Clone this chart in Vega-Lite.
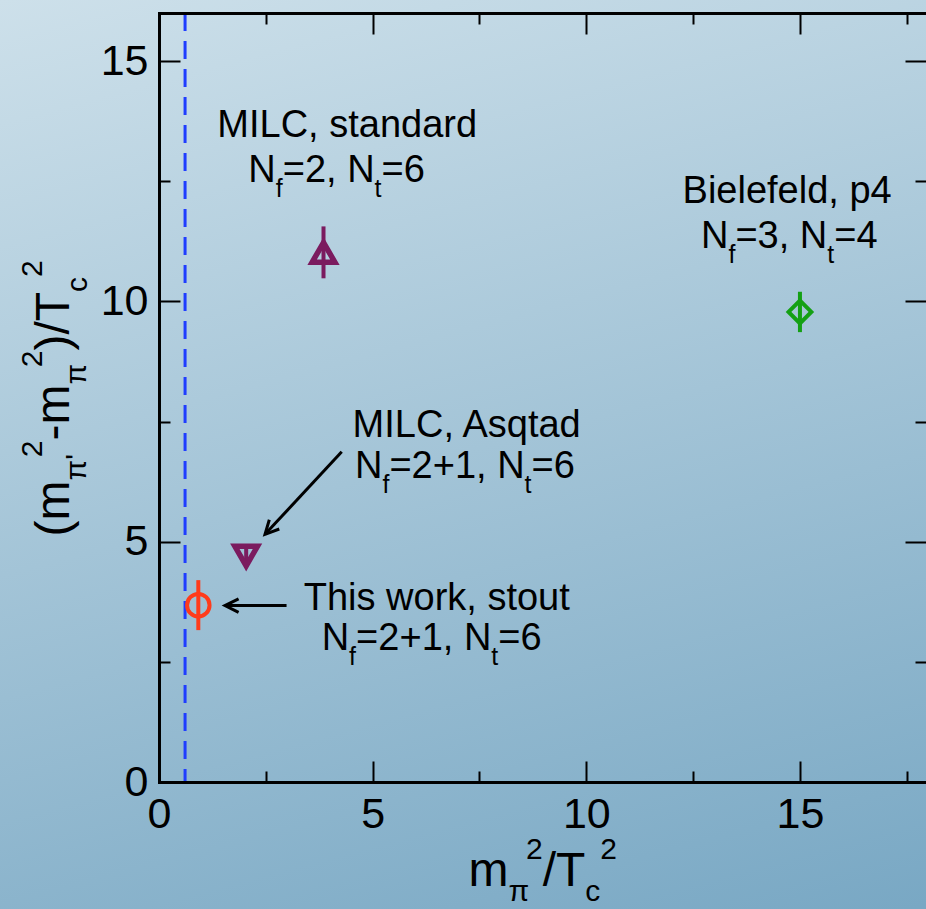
{
  "$schema": "https://vega.github.io/schema/vega-lite/v6.json",
  "width": 767,
  "height": 769,
  "autosize": {"type": "none"},
  "padding": {"left": 159, "top": 13, "right": 0, "bottom": 127},
  "background": "#a9c6d6",
  "config": {
    "view": {"stroke": null},
    "axis": {
      "grid": false,
      "domainColor": "#000000", "domainWidth": 3, "domainCap": "square",
      "tickColor": "#000000", "tickWidth": 2,
      "labelFont": "Liberation Sans", "labelFontSize": 43, "labelColor": "#000000",
      "labelFlush": false, "labelOverlap": false, "labelBound": false
    },
    "text": {"font": "Liberation Sans", "color": "#000000", "baseline": "alphabetic", "align": "left", "fontSize": 38}
  },
  "data": {"values": [{}]},
  "datasets": {
    "points": [
      {"series": "This work, stout", "x": 0.92, "y": 3.68, "err": 0.52},
      {"series": "MILC, Asqtad", "x": 2.04, "y": 4.70, "err": 0.15},
      {"series": "MILC, standard", "x": 3.85, "y": 11.02, "err": 0.54},
      {"series": "Bielefeld, p4", "x": 15.0, "y": 9.78, "err": 0.42}
    ],
    "arrows": [
      {"to": "MILC, Asqtad", "x": 4.276, "y": 6.871, "x2": 2.481, "y2": 5.153},
      {"to": "This work, stout", "x": 2.985, "y": 3.67, "x2": 1.544, "y2": 3.67}
    ],
    "notes": [
      {"text": "MILC, standard", "x": 4.405, "y": 13.41},
      {"text": "Bielefeld, p4", "x": 14.70, "y": 12.045},
      {"text": "MILC, Asqtad", "x": 7.20, "y": 7.18},
      {"text": "This work, stout", "x": 6.50, "y": 3.578}
    ],
    "flavours": [
      {"label": "MILC, standard", "x": 2.090, "y": 12.488, "mid": "=2, N", "tail": "=6"},
      {"label": "Bielefeld, p4", "x": 12.685, "y": 11.12, "mid": "=3, N", "tail": "=4"},
      {"label": "MILC, Asqtad", "x": 4.587, "y": 6.318, "mid": "=2+1, N", "tail": "=6"},
      {"label": "This work, stout", "x": 3.808, "y": 2.746, "mid": "=2+1, N", "tail": "=6"}
    ]
  },
  "resolve": {"axis": {"x": "independent", "y": "independent"}},
  "layer": [
    {
      "mark": {"type": "rect", "fill": {"gradient": "linear", "x1": 0, "y1": 0, "x2": 0.32, "y2": 1.18,
        "stops": [{"offset": 0, "color": "#cde0ea"}, {"offset": 1, "color": "#79a8c4"}]}},
      "encoding": {
        "x": {"datum": -3.721, "type": "quantitative", "scale": {"domain": [0, 17.95], "nice": false, "zero": false}, "axis": null},
        "x2": {"datum": 17.95},
        "y": {"datum": 16.2705, "type": "quantitative", "scale": {"domain": [0, 16], "nice": false, "zero": false}, "axis": null},
        "y2": {"datum": -2.642}
      }
    },
    {
      "data": {"values": [{"mpi2": 0.61}]},
      "mark": {"type": "rule", "color": "#1f3dff", "strokeWidth": 3, "strokeDash": [18, 10]},
      "encoding": {
        "x": {"field": "mpi2", "type": "quantitative", "scale": {"domain": [0, 17.95], "nice": false, "zero": false}, "axis": null}
      }
    },
    {
      "data": {"name": "arrows"},
      "mark": {"type": "rule", "color": "#000000", "strokeWidth": 3},
      "encoding": {
        "x": {"field": "x", "type": "quantitative", "scale": {"domain": [0, 17.95], "nice": false, "zero": false},
          "axis": {"orient": "top", "values": [0, 5, 10, 15], "tickSize": -21, "labels": false, "title": null, "zindex": 1}},
        "y": {"field": "y", "type": "quantitative", "scale": {"domain": [0, 16], "nice": false, "zero": false},
          "axis": {"orient": "right", "values": [0, 5, 10, 15], "tickSize": -21, "labels": false, "domain": false, "title": null, "zindex": 1}},
        "x2": {"field": "x2"},
        "y2": {"field": "y2"}
      }
    },
    {
      "data": {"name": "arrows"},
      "transform": [{"filter": "datum.to === 'MILC, Asqtad'"}],
      "mark": {"type": "point", "shape": "M-1,-0.5L0,0L-1,0.5", "filled": false, "stroke": "#000000", "strokeWidth": 3, "size": 740, "angle": 133, "opacity": 1, "strokeJoin": "miter"},
      "encoding": {
        "x": {"field": "x2", "type": "quantitative", "scale": {"domain": [0, 17.95], "nice": false, "zero": false}, "axis": null},
        "y": {"field": "y2", "type": "quantitative", "scale": {"domain": [0, 16], "nice": false, "zero": false}, "axis": null}
      }
    },
    {
      "data": {"name": "arrows"},
      "transform": [{"filter": "datum.to === 'This work, stout'"}],
      "mark": {"type": "point", "shape": "M-1,-0.5L0,0L-1,0.5", "filled": false, "stroke": "#000000", "strokeWidth": 3, "size": 740, "angle": 180, "opacity": 1, "strokeJoin": "miter"},
      "encoding": {
        "x": {"field": "x2", "type": "quantitative", "scale": {"domain": [0, 17.95], "nice": false, "zero": false}, "axis": null},
        "y": {"field": "y2", "type": "quantitative", "scale": {"domain": [0, 16], "nice": false, "zero": false}, "axis": null}
      }
    },
    {
      "data": {"name": "points"},
      "mark": {"type": "errorbar", "ticks": false, "thickness": 4},
      "encoding": {
        "x": {"field": "x", "type": "quantitative", "scale": {"domain": [0, 17.95], "nice": false, "zero": false},
          "axis": {"orient": "bottom", "values": [0, 5, 10, 15], "tickSize": -21, "labelPadding": 32, "title": null, "zindex": 1}},
        "y": {"field": "y", "type": "quantitative", "scale": {"domain": [0, 16], "nice": false, "zero": false},
          "axis": {"orient": "left", "values": [0, 5, 10, 15], "tickSize": -21, "labelPadding": 32, "title": null, "zindex": 1}},
        "yError": {"field": "err"},
        "color": {"field": "series", "type": "nominal", "legend": null,
          "scale": {"domain": ["This work, stout", "MILC, Asqtad", "MILC, standard", "Bielefeld, p4"],
                    "range": ["#ff3b1b", "#7b1b5f", "#7b1b5f", "#14a014"]}}
      }
    },
    {
      "data": {"name": "points"},
      "mark": {"type": "point", "filled": false, "opacity": 1},
      "encoding": {
        "x": {"field": "x", "type": "quantitative", "scale": {"domain": [0, 17.95], "nice": false, "zero": false},
          "axis": {"orient": "bottom", "values": [2.5, 7.5, 12.5, 17.5], "tickSize": -11, "labels": false, "domain": false, "title": null, "zindex": 1}},
        "y": {"field": "y", "type": "quantitative", "scale": {"domain": [0, 16], "nice": false, "zero": false},
          "axis": {"orient": "left", "values": [2.5, 7.5, 12.5], "tickSize": -11, "labels": false, "domain": false, "title": null, "zindex": 1}},
        "color": {"field": "series", "type": "nominal", "legend": null,
          "scale": {"domain": ["This work, stout", "MILC, Asqtad", "MILC, standard", "Bielefeld, p4"],
                    "range": ["#ff3b1b", "#7b1b5f", "#7b1b5f", "#14a014"]}},
        "shape": {"field": "series", "type": "nominal", "legend": null,
          "scale": {"domain": ["This work, stout", "MILC, Asqtad", "MILC, standard", "Bielefeld, p4"],
                    "range": ["circle", "triangle-down", "triangle-up", "diamond"]}},
        "size": {"field": "series", "type": "nominal", "legend": null,
          "scale": {"domain": ["This work, stout", "MILC, Asqtad", "MILC, standard", "Bielefeld, p4"],
                    "range": [506, 520, 520, 530]}},
        "strokeWidth": {"condition": {"test": "indexof(datum.series, 'MILC') >= 0", "value": 5.5}, "value": 4}
      }
    },
    {
      "data": {"name": "notes"},
      "mark": {"type": "text", "align": "center", "fontSize": 38},
      "encoding": {
        "x": {"field": "x", "type": "quantitative", "scale": {"domain": [0, 17.95], "nice": false, "zero": false},
          "axis": {"orient": "top", "values": [2.5, 7.5, 12.5, 17.5], "tickSize": -11, "labels": false, "domain": false, "title": null, "zindex": 1}},
        "y": {"field": "y", "type": "quantitative", "scale": {"domain": [0, 16], "nice": false, "zero": false},
          "axis": {"orient": "right", "values": [2.5, 7.5, 12.5], "tickSize": -11, "labels": false, "domain": false, "title": null, "zindex": 1}},
        "text": {"field": "text"}
      }
    },
    {
      "data": {"name": "flavours"},
      "mark": {"type": "text", "text": "N", "fontSize": 38},
      "encoding": {
        "x": {"field": "x", "type": "quantitative", "scale": {"domain": [0, 17.95], "nice": false, "zero": false}, "axis": null},
        "y": {"field": "y", "type": "quantitative", "scale": {"domain": [0, 16], "nice": false, "zero": false}, "axis": null}
      }
    },
    {
      "data": {"name": "flavours"},
      "mark": {"type": "text", "text": "f", "fontSize": 25, "dx": 27.4, "dy": 15},
      "encoding": {
        "x": {"field": "x", "type": "quantitative", "scale": {"domain": [0, 17.95], "nice": false, "zero": false}, "axis": null},
        "y": {"field": "y", "type": "quantitative", "scale": {"domain": [0, 16], "nice": false, "zero": false}, "axis": null}
      }
    },
    {
      "data": {"name": "flavours"},
      "mark": {"type": "text", "fontSize": 38, "dx": 34.4},
      "encoding": {
        "x": {"field": "x", "type": "quantitative", "scale": {"domain": [0, 17.95], "nice": false, "zero": false}, "axis": null},
        "y": {"field": "y", "type": "quantitative", "scale": {"domain": [0, 16], "nice": false, "zero": false}, "axis": null},
        "text": {"field": "mid"}
      }
    },
    {
      "data": {"name": "flavours"},
      "transform": [{"filter": "indexof(datum.mid, '+') < 0"}],
      "mark": {"type": "text", "text": "t", "fontSize": 25, "dx": 126.3, "dy": 15},
      "encoding": {
        "x": {"field": "x", "type": "quantitative", "scale": {"domain": [0, 17.95], "nice": false, "zero": false}, "axis": null},
        "y": {"field": "y", "type": "quantitative", "scale": {"domain": [0, 16], "nice": false, "zero": false}, "axis": null}
      }
    },
    {
      "data": {"name": "flavours"},
      "transform": [{"filter": "indexof(datum.mid, '+') < 0"}],
      "mark": {"type": "text", "fontSize": 38, "dx": 133.2},
      "encoding": {
        "x": {"field": "x", "type": "quantitative", "scale": {"domain": [0, 17.95], "nice": false, "zero": false}, "axis": null},
        "y": {"field": "y", "type": "quantitative", "scale": {"domain": [0, 16], "nice": false, "zero": false}, "axis": null},
        "text": {"field": "tail"}
      }
    },
    {
      "data": {"name": "flavours"},
      "transform": [{"filter": "indexof(datum.mid, '+') >= 0"}],
      "mark": {"type": "text", "text": "t", "fontSize": 25, "dx": 169.6, "dy": 15},
      "encoding": {
        "x": {"field": "x", "type": "quantitative", "scale": {"domain": [0, 17.95], "nice": false, "zero": false}, "axis": null},
        "y": {"field": "y", "type": "quantitative", "scale": {"domain": [0, 16], "nice": false, "zero": false}, "axis": null}
      }
    },
    {
      "data": {"name": "flavours"},
      "transform": [{"filter": "indexof(datum.mid, '+') >= 0"}],
      "mark": {"type": "text", "fontSize": 38, "dx": 176.5},
      "encoding": {
        "x": {"field": "x", "type": "quantitative", "scale": {"domain": [0, 17.95], "nice": false, "zero": false}, "axis": null},
        "y": {"field": "y", "type": "quantitative", "scale": {"domain": [0, 16], "nice": false, "zero": false}, "axis": null},
        "text": {"field": "tail"}
      }
    },
    {
      "mark": {"type": "text", "text": "m", "fontSize": 48},
      "encoding": {
        "x": {"datum": 7.245, "type": "quantitative", "scale": {"domain": [0, 17.95], "nice": false, "zero": false}, "axis": null},
        "y": {"datum": -2.16, "type": "quantitative", "scale": {"domain": [0, 16], "nice": false, "zero": false}, "axis": null}
      }
    },
    {
      "mark": {"type": "text", "text": "π", "fontSize": 30, "dx": 40, "dy": 15},
      "encoding": {
        "x": {"datum": 7.245, "type": "quantitative", "scale": {"domain": [0, 17.95], "nice": false, "zero": false}, "axis": null},
        "y": {"datum": -2.16, "type": "quantitative", "scale": {"domain": [0, 16], "nice": false, "zero": false}, "axis": null}
      }
    },
    {
      "mark": {"type": "text", "text": "2", "fontSize": 30, "dx": 57.4, "dy": -27},
      "encoding": {
        "x": {"datum": 7.245, "type": "quantitative", "scale": {"domain": [0, 17.95], "nice": false, "zero": false}, "axis": null},
        "y": {"datum": -2.16, "type": "quantitative", "scale": {"domain": [0, 16], "nice": false, "zero": false}, "axis": null}
      }
    },
    {
      "mark": {"type": "text", "text": "/T", "fontSize": 48, "dx": 74.1},
      "encoding": {
        "x": {"datum": 7.245, "type": "quantitative", "scale": {"domain": [0, 17.95], "nice": false, "zero": false}, "axis": null},
        "y": {"datum": -2.16, "type": "quantitative", "scale": {"domain": [0, 16], "nice": false, "zero": false}, "axis": null}
      }
    },
    {
      "mark": {"type": "text", "text": "c", "fontSize": 30, "dx": 116.7, "dy": 15},
      "encoding": {
        "x": {"datum": 7.245, "type": "quantitative", "scale": {"domain": [0, 17.95], "nice": false, "zero": false}, "axis": null},
        "y": {"datum": -2.16, "type": "quantitative", "scale": {"domain": [0, 16], "nice": false, "zero": false}, "axis": null}
      }
    },
    {
      "mark": {"type": "text", "text": "2", "fontSize": 30, "dx": 131.7, "dy": -27},
      "encoding": {
        "x": {"datum": 7.245, "type": "quantitative", "scale": {"domain": [0, 17.95], "nice": false, "zero": false}, "axis": null},
        "y": {"datum": -2.16, "type": "quantitative", "scale": {"domain": [0, 16], "nice": false, "zero": false}, "axis": null}
      }
    },
    {
      "mark": {"type": "text", "text": "(m", "fontSize": 48, "angle": -90},
      "encoding": {
        "x": {"datum": -2.106, "type": "quantitative", "scale": {"domain": [0, 17.95], "nice": false, "zero": false}, "axis": null},
        "y": {"datum": 5.11, "type": "quantitative", "scale": {"domain": [0, 16], "nice": false, "zero": false}, "axis": null}
      }
    },
    {
      "mark": {"type": "text", "text": "π'", "fontSize": 30, "angle": -90, "dx": 56, "dy": 17},
      "encoding": {
        "x": {"datum": -2.106, "type": "quantitative", "scale": {"domain": [0, 17.95], "nice": false, "zero": false}, "axis": null},
        "y": {"datum": 5.11, "type": "quantitative", "scale": {"domain": [0, 16], "nice": false, "zero": false}, "axis": null}
      }
    },
    {
      "mark": {"type": "text", "text": "2", "fontSize": 30, "angle": -90, "dx": 79.1, "dy": -27},
      "encoding": {
        "x": {"datum": -2.106, "type": "quantitative", "scale": {"domain": [0, 17.95], "nice": false, "zero": false}, "axis": null},
        "y": {"datum": 5.11, "type": "quantitative", "scale": {"domain": [0, 16], "nice": false, "zero": false}, "axis": null}
      }
    },
    {
      "mark": {"type": "text", "text": "-m", "fontSize": 48, "angle": -90, "dx": 95.8},
      "encoding": {
        "x": {"datum": -2.106, "type": "quantitative", "scale": {"domain": [0, 17.95], "nice": false, "zero": false}, "axis": null},
        "y": {"datum": 5.11, "type": "quantitative", "scale": {"domain": [0, 16], "nice": false, "zero": false}, "axis": null}
      }
    },
    {
      "mark": {"type": "text", "text": "π", "fontSize": 30, "angle": -90, "dx": 151.8, "dy": 17},
      "encoding": {
        "x": {"datum": -2.106, "type": "quantitative", "scale": {"domain": [0, 17.95], "nice": false, "zero": false}, "axis": null},
        "y": {"datum": 5.11, "type": "quantitative", "scale": {"domain": [0, 16], "nice": false, "zero": false}, "axis": null}
      }
    },
    {
      "mark": {"type": "text", "text": "2", "fontSize": 30, "angle": -90, "dx": 169.2, "dy": -27},
      "encoding": {
        "x": {"datum": -2.106, "type": "quantitative", "scale": {"domain": [0, 17.95], "nice": false, "zero": false}, "axis": null},
        "y": {"datum": 5.11, "type": "quantitative", "scale": {"domain": [0, 16], "nice": false, "zero": false}, "axis": null}
      }
    },
    {
      "mark": {"type": "text", "text": ")/T", "fontSize": 48, "angle": -90, "dx": 185.9},
      "encoding": {
        "x": {"datum": -2.106, "type": "quantitative", "scale": {"domain": [0, 17.95], "nice": false, "zero": false}, "axis": null},
        "y": {"datum": 5.11, "type": "quantitative", "scale": {"domain": [0, 16], "nice": false, "zero": false}, "axis": null}
      }
    },
    {
      "mark": {"type": "text", "text": "c", "fontSize": 30, "angle": -90, "dx": 244.5, "dy": 18},
      "encoding": {
        "x": {"datum": -2.106, "type": "quantitative", "scale": {"domain": [0, 17.95], "nice": false, "zero": false}, "axis": null},
        "y": {"datum": 5.11, "type": "quantitative", "scale": {"domain": [0, 16], "nice": false, "zero": false}, "axis": null}
      }
    },
    {
      "mark": {"type": "text", "text": "2", "fontSize": 30, "angle": -90, "dx": 259.5, "dy": -27},
      "encoding": {
        "x": {"datum": -2.106, "type": "quantitative", "scale": {"domain": [0, 17.95], "nice": false, "zero": false}, "axis": null},
        "y": {"datum": 5.11, "type": "quantitative", "scale": {"domain": [0, 16], "nice": false, "zero": false}, "axis": null}
      }
    }
  ]
}
